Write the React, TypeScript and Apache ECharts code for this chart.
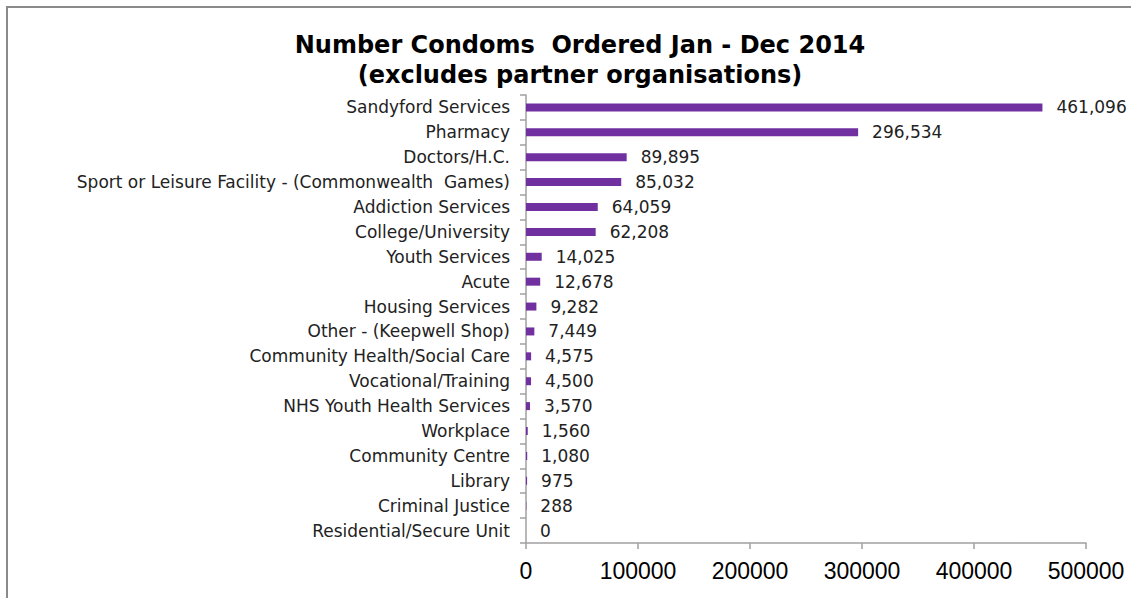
import React, { useEffect, useRef } from "react";
import * as echarts from "echarts";

const categories = [
  "Sandyford Services",
  "Pharmacy",
  "Doctors/H.C.",
  "Sport or Leisure Facility - (Commonwealth  Games)",
  "Addiction Services",
  "College/University",
  "Youth Services",
  "Acute",
  "Housing Services",
  "Other - (Keepwell Shop)",
  "Community Health/Social Care",
  "Vocational/Training",
  "NHS Youth Health Services",
  "Workplace",
  "Community Centre",
  "Library",
  "Criminal Justice",
  "Residential/Secure Unit",
];
const values = [461096, 296534, 89895, 85032, 64059, 62208, 14025, 12678, 9282, 7449, 4575, 4500, 3570, 1560, 1080, 975, 288, 0];
const xTicks = [0, 100000, 200000, 300000, 400000, 500000];

const titleLine1 = "Number Condoms  Ordered Jan - Dec 2014";
const titleLine2 = "(excludes partner organisations)";

export default function App() {
  const ref = useRef<HTMLDivElement>(null);
  useEffect(() => {
    if (!ref.current) return;
    const chart = echarts.init(ref.current, undefined, { renderer: "svg" });
    const font = "'DejaVu Sans', Verdana, sans-serif";
    const arial = "'Liberation Sans', Arial, sans-serif";
    chart.setOption({
      animation: false,
      backgroundColor: "#fff",
      title: {
        text: titleLine1 + "\n" + titleLine2,
        left: 575,
        top: 25,
        textAlign: "center",
        textStyle: {
          fontFamily: font,
          fontWeight: "bold",
          fontSize: 24,
          lineHeight: 30,
          color: "#000",
        },
      },
      graphic: [
        {
          type: "rect",
          shape: { x: 7, y: 7, width: 1140, height: 610 },
          style: { fill: "none", stroke: "#8a8a8a", lineWidth: 2 },
          silent: true,
        },
      ],
      grid: { left: 526, right: 45, top: 95, bottom: 55, containLabel: false },
      xAxis: {
        type: "value",
        min: xTicks[0],
        max: xTicks[xTicks.length - 1],
        interval: xTicks[1] - xTicks[0],
        splitLine: { show: false },
        axisLine: { show: true, lineStyle: { color: "#a0a0a0", width: 1.5 } },
        axisTick: { show: true, length: 6, lineStyle: { color: "#a0a0a0", width: 1.5 } },
        axisLabel: {
          fontFamily: arial,
          fontSize: 23,
          color: "#000",
          margin: 16,
          formatter: (v: number) => String(v),
        },
      },
      yAxis: {
        type: "category",
        data: categories,
        inverse: true,
        axisLine: { show: true, lineStyle: { color: "#a0a0a0", width: 1.5 } },
        axisTick: { show: true, length: 6, lineStyle: { color: "#a0a0a0", width: 1.5 } },
        axisLabel: {
          fontFamily: font,
          fontSize: 17,
          color: "#222",
          margin: 16,
        },
      },
      series: [
        {
          type: "bar",
          data: values,
          barWidth: 8,
          itemStyle: { color: "#7030A0" },
          label: {
            show: true,
            position: "right",
            distance: 14,
            fontFamily: font,
            fontSize: 17,
            color: "#222",
            formatter: (p: any) => Number(p.value).toLocaleString("en-US"),
          },
        },
      ],
    });
    return () => chart.dispose();
  }, []);
  return (
    <div
      ref={ref}
      style={{ width: 1131, height: 598, position: "absolute", left: 0, top: 0 }}
    />
  );
}
